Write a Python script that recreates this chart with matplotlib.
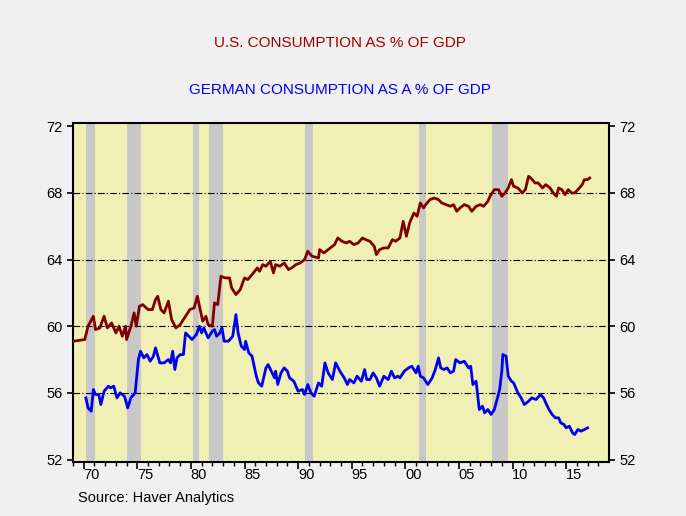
import matplotlib
matplotlib.use('Agg')
import matplotlib.pyplot as plt
import numpy as np

plt.rcParams['font.family'] = ['Liberation Sans', 'DejaVu Sans']

us_year = [1969.0, 1970.1, 1970.4, 1970.9, 1971.1, 1971.5, 1971.9, 1972.2, 1972.6, 1973.0,
           1973.3, 1973.6, 1973.9, 1974.0, 1974.4, 1974.7, 1974.9, 1975.2, 1975.5, 1976.0,
           1976.4, 1976.7, 1976.9, 1977.2, 1977.5, 1977.9, 1978.2, 1978.6, 1979.0, 1979.4,
           1979.9, 1980.3, 1980.6, 1980.8, 1981.1, 1981.4, 1981.6, 1982.0, 1982.2, 1982.5,
           1982.8, 1983.2, 1983.6, 1983.8, 1984.2, 1984.6, 1985.0, 1985.3, 1985.7, 1986.2,
           1986.4, 1986.7, 1987.0, 1987.4, 1987.7, 1987.9, 1988.3, 1988.7, 1989.1, 1989.4,
           1989.8, 1990.2, 1990.6, 1990.9, 1991.3, 1991.9, 1992.0, 1992.4, 1993.0, 1993.4,
           1993.7, 1994.1, 1994.5, 1994.8, 1995.2, 1995.6, 1996.0, 1996.3, 1996.7, 1997.1,
           1997.3, 1997.6, 1998.0, 1998.4, 1998.8, 1999.1, 1999.5, 1999.8, 2000.1, 2000.4,
           2000.8, 2001.1, 2001.4, 2001.7, 2001.9, 2002.3, 2002.7, 2003.1, 2003.4, 2003.8,
           2004.2, 2004.5, 2004.8, 2005.1, 2005.5, 2005.9, 2006.2, 2006.6, 2007.0, 2007.3,
           2007.7, 2007.9, 2008.3, 2008.7, 2009.0, 2009.3, 2009.6, 2009.9, 2010.1, 2010.5,
           2010.9, 2011.2, 2011.5, 2011.7, 2012.1, 2012.4, 2012.8, 2013.1, 2013.5, 2013.8,
           2014.1, 2014.3, 2014.6, 2014.9, 2015.2, 2015.5, 2015.8, 2016.1, 2016.5, 2016.7,
           2017.0, 2017.2]
us_val = [59.1, 59.2, 60.0, 60.6, 59.8, 59.9, 60.6, 59.9, 60.2, 59.6,
          60.0, 59.4, 60.0, 59.2, 60.0, 60.8, 60.0, 61.2, 61.3, 61.0,
          61.0, 61.6, 61.8, 61.0, 60.8, 61.5, 60.4, 59.9, 60.1, 60.5,
          61.0, 61.1, 61.8, 61.2, 60.3, 60.6, 60.1, 60.0, 61.4, 61.3,
          63.0, 62.9, 62.9, 62.3, 61.9, 62.2, 62.9, 62.8, 63.1, 63.5,
          63.3, 63.7, 63.6, 63.9, 63.2, 63.7, 63.6, 63.8, 63.4, 63.5,
          63.7, 63.8, 64.0, 64.5, 64.2, 64.1, 64.6, 64.4, 64.7, 64.9,
          65.3, 65.1, 65.0, 65.1, 64.9, 65.0, 65.3, 65.2, 65.1, 64.8,
          64.3, 64.6, 64.7, 64.7, 65.2, 65.1, 65.3, 66.3, 65.4, 66.2,
          66.8, 66.6, 67.4, 67.1, 67.3, 67.6, 67.7, 67.6, 67.4, 67.3,
          67.2, 67.3, 66.9, 67.1, 67.3, 67.2, 66.9, 67.2, 67.3, 67.2,
          67.5, 67.8, 68.2, 68.2, 67.8, 68.0, 68.3, 68.8, 68.4, 68.3,
          68.0, 68.2, 69.0, 68.9, 68.6, 68.6, 68.3, 68.5, 68.3, 68.0,
          67.8, 68.3, 68.2, 67.9, 68.2, 68.0, 68.0, 68.2, 68.5, 68.8,
          68.8, 68.9]

de_year = [1970.2, 1970.4, 1970.7, 1970.9, 1971.1, 1971.4, 1971.6, 1971.9, 1972.3, 1972.5,
           1972.8, 1973.1, 1973.4, 1973.8, 1974.1, 1974.4, 1974.8, 1975.1, 1975.3, 1975.6,
           1975.9, 1976.2, 1976.5, 1976.7, 1977.1, 1977.5, 1977.9, 1978.1, 1978.3, 1978.5,
           1978.7, 1979.0, 1979.3, 1979.5, 1979.8, 1980.1, 1980.5, 1980.8, 1981.0, 1981.2,
           1981.4, 1981.6, 1982.0, 1982.2, 1982.4, 1982.7, 1982.9, 1983.1, 1983.5, 1983.9,
           1984.2, 1984.4, 1984.7, 1985.0, 1985.1, 1985.4, 1985.7, 1986.1, 1986.3, 1986.6,
           1987.0, 1987.2, 1987.5, 1987.8, 1987.9, 1988.1, 1988.4, 1988.7, 1989.0, 1989.2,
           1989.6, 1990.0, 1990.4, 1990.6, 1990.9, 1991.2, 1991.5, 1991.9, 1992.2, 1992.5,
           1992.8, 1993.2, 1993.5, 1993.9, 1994.3, 1994.6, 1994.8, 1995.2, 1995.5, 1995.9,
           1996.2, 1996.4, 1996.7, 1997.0, 1997.3, 1997.6, 1998.0, 1998.4, 1998.7, 1999.0,
           1999.3, 1999.5, 1999.9, 2000.3, 2000.6, 2001.0, 2001.2, 2001.4, 2001.7, 2002.1,
           2002.5, 2002.8, 2003.1, 2003.3, 2003.6, 2003.9, 2004.2, 2004.5, 2004.7, 2005.1,
           2005.5, 2005.9, 2006.1, 2006.3, 2006.6, 2006.9, 2007.2, 2007.4, 2007.7, 2008.0,
           2008.3, 2008.6, 2008.8, 2009.0, 2009.1, 2009.4, 2009.6, 2009.9, 2010.1, 2010.5,
           2010.8, 2011.1, 2011.5, 2011.8, 2012.2, 2012.6, 2012.9, 2013.1, 2013.4, 2013.7,
           2014.0, 2014.3, 2014.5, 2014.8, 2015.0, 2015.3, 2015.6, 2015.8, 2016.1, 2016.4,
           2016.7, 2017.0]
de_val = [55.7, 55.1, 54.9, 56.2, 55.9, 55.9, 55.3, 56.1, 56.4, 56.3,
          56.4, 55.7, 56.0, 55.8, 55.1, 55.7, 56.0, 58.0, 58.5, 58.1,
          58.3, 57.9, 58.2, 58.7, 57.8, 57.8, 58.0, 57.8, 58.5, 57.4,
          58.1, 58.3, 58.3, 59.6, 59.4, 59.2, 59.5, 60.0, 59.6, 59.9,
          59.6, 59.3, 59.7, 59.8, 59.4, 59.6, 59.9, 59.1, 59.1, 59.4,
          60.7, 59.6, 58.8, 58.6, 59.1, 58.4, 58.2, 57.0, 56.6, 56.4,
          57.5, 57.7, 57.3, 56.9, 57.3, 56.5, 57.2, 57.5, 57.3, 56.9,
          56.7, 56.1, 56.2, 55.9, 56.5, 56.0, 55.8, 56.6, 56.4, 57.8,
          57.2, 56.8, 57.8, 57.3, 56.9, 56.5, 56.8, 56.6, 57.0, 56.7,
          57.4, 56.8, 56.8, 57.2, 56.9, 56.4, 57.0, 56.8, 57.3, 56.9,
          57.0, 56.9, 57.3, 57.5, 57.6, 57.2, 57.6, 57.0, 56.9, 56.5,
          56.9, 57.4, 58.1, 57.5, 57.4, 57.5, 57.2, 57.3, 58.0, 57.8,
          57.9, 57.5, 57.6, 56.5, 56.7, 55.0, 55.2, 54.8, 55.0, 54.7,
          55.0, 55.7, 56.2, 57.3, 58.3, 58.2, 57.0, 56.7, 56.6, 56.0,
          55.7, 55.3, 55.5, 55.7, 55.6, 55.9, 55.7, 55.4, 55.0, 54.7,
          54.5, 54.5, 54.2, 54.1, 53.9, 54.0, 53.6, 53.5, 53.8, 53.7,
          53.8, 53.9]

recessions = [(1970.2, 1971.05), (1974.05, 1975.35), (1980.2, 1980.75), (1981.7, 1983.0),
              (1990.65, 1991.4), (2001.3, 2001.95), (2008.1, 2009.6)]
x_labels = ['70', '75', '80', '85', '90', '95', '00', '05', '10', '15']
x_label_years = [1970, 1975, 1980, 1985, 1990, 1995, 2000, 2005, 2010, 2015]
y_ticks = [52, 56, 60, 64, 68, 72]

fig = plt.figure(figsize=(6.86, 5.16), dpi=100, facecolor='#f0f0f0')
ax = fig.add_axes([73/686, 1 - 462/516, 536/686, 339/516])
ax.set_facecolor('#f0f0b4')

for a, b in recessions:
    ax.axvspan(a, b, color='#c8c8c8', lw=0, zorder=1)
for y in [56, 60, 64, 68]:
    ax.axhline(y, color='black', lw=0.8, ls=(0, (6, 2, 1, 2)), zorder=2)

ax.plot(us_year, us_val, color='#800000', lw=2, zorder=3)
ax.plot(de_year, de_val, color='#0000ee', lw=2, zorder=3)

ax.set_xlim(1969.0, 2019.0)
ax.set_ylim(51.85, 72.2)
ax.set_yticks(y_ticks)
ax.tick_params(axis='y', which='both', direction='out', length=4, width=1.2,
               labelsize=10.5, right=True, labelright=True)
ax.set_xticks(x_label_years)
ax.set_xticklabels([])
ax.set_xticks(np.arange(1969, 2019), minor=True)
ax.tick_params(axis='x', which='major', direction='out', length=5, width=1.2)
ax.tick_params(axis='x', which='minor', direction='out', length=3, width=1)
for yr, lab in zip(x_label_years, x_labels):
    ax.text(yr + 0.75, 51.85 - 0.35, lab, ha='center', va='top', fontsize=10.5)
for s in ax.spines.values():
    s.set_linewidth(1.5)

fig.text(340/686, 1 - 43/516, 'U.S. CONSUMPTION AS % OF GDP', color='#a00000',
         ha='center', va='center', fontsize=11)
fig.text(340/686, 1 - 90/516, 'GERMAN CONSUMPTION AS A % OF GDP', color='#0000ee',
         ha='center', va='center', fontsize=11)
fig.text(78/686, 1 - 498/516, 'Source: Haver Analytics', ha='left', va='center',
         fontsize=10.5)

fig.savefig('out.png', dpi=100, facecolor=fig.get_facecolor())
